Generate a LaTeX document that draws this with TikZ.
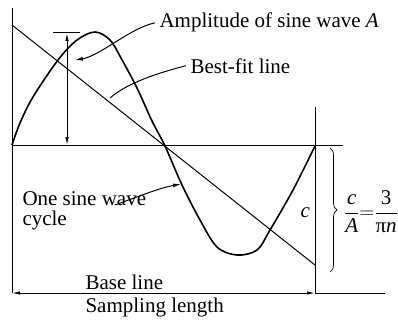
\documentclass[tikz,border=0pt]{standalone}
\usepackage{fontspec}
\setmainfont{Liberation Serif}
\usetikzlibrary{arrows.meta,decorations.pathreplacing}
\begin{document}
\begin{tikzpicture}[x=1pt,y=-1pt,line width=1pt,
  lbl/.style={anchor=base west, inner sep=0pt, font=\fontsize{21}{20}\selectfont},
  tip/.style={-{Latex[length=8pt,width=4pt]}},
  dbl/.style={{Latex[length=8pt,width=3.5pt]}-{Latex[length=8pt,width=3.5pt]}}]
\useasboundingbox (0,0) rectangle (398,321);
\coordinate (top) at (12,8);
\coordinate (orig) at (12,145);
\coordinate (axend) at (343,145);
\coordinate (rtop) at (315,107);
\coordinate (bl) at (12,293);
\coordinate (br) at (315,293);
\coordinate (blend) at (385,293);
\coordinate (fitA) at (12,25);
\coordinate (fitB) at (315,265);
\coordinate (ampT) at (67,33);
\coordinate (ampB) at (67,145);
\coordinate (tickL) at (53,33);
\coordinate (tickR) at (80,33);
\coordinate (ampP) at (75,60);
\coordinate (fitP) at (110,98);
\coordinate (cycS) at (115,205);
\coordinate (cycP) at (181,184);
\coordinate (braT) at (330,148);
\coordinate (braB) at (330,272);

% axes and frame
\draw (top) -- (bl);
\draw (orig) -- (axend);
\draw (rtop) -- (br);
\draw[dbl] (bl) -- (br);
\draw (br) -- (blend);

% best-fit line
\draw (fitA) -- (fitB);

% sine wave
\draw[line width=1.6pt] plot[smooth, tension=0.55] coordinates {(12,145) (20,123) (33,97) (58,60) (77,40) (95,32) (110,40) (121,58) (137,88) (152,121) (165,146) (182,185) (200,220) (217,247) (237,255) (257,250) (270,230) (293,190) (315,146)};

% amplitude
\draw (tickL) -- (tickR);
\draw[dbl] (ampT) -- (ampB);

% labels
\node[lbl] (amp) at (159,28) {Amplitude of sine wave \textit{A}};
\node[lbl] (fit) at (190,73) {Best-fit line};
\node[lbl, align=left] (cyc) at (22,225) {One sine wave\\cycle};
\node[lbl] (base) at (85,289) {Base line};
\node[lbl] (samp) at (85,312) {Sampling length};
\node[lbl] (cc) at (300,217) {\textit{c}};
\node[inner sep=0pt, font=\fontsize{21}{20}\selectfont] (ratio) at (371,212)
  {$\displaystyle\frac{\mbox{\textit{c}}}{\mbox{\textit{A}}}{=}\frac{\mbox{3}}{\mbox{π\textit{n}}}$};

% pointers
\draw[tip] ([xshift=-4pt]amp.west) .. controls (130,28) and (100,56) .. (ampP);
\draw ([xshift=-4pt]fit.west) .. controls (150,75) and (125,85) .. (fitP);
\draw[tip] (cycS) .. controls (145,194) and (160,188) .. (cycP);

% brace
\draw[line width=0.7pt, decorate, decoration={brace, amplitude=7pt}] (braT) -- (braB);
\end{tikzpicture}
\end{document}
